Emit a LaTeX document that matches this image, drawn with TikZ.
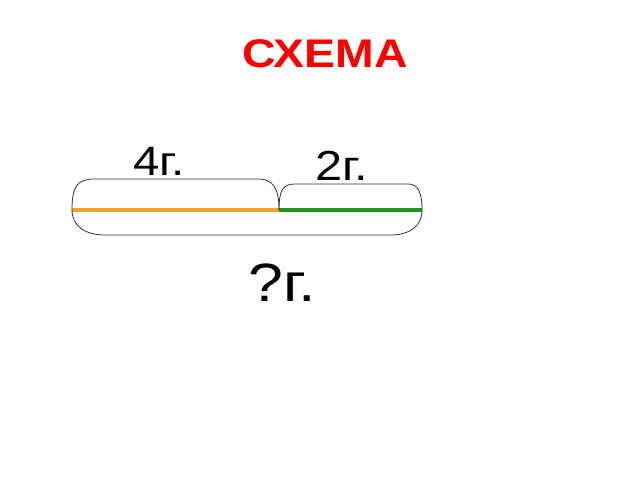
\documentclass[tikz,border=0pt]{standalone}
\usepackage{fontspec}
\setmainfont{Liberation Sans}
\newfontfamily\slidefont[FakeStretch=1.16]{Liberation Sans}
\usepackage{tikz}
\definecolor{partA}{RGB}{245,162,40}
\definecolor{partB}{RGB}{30,150,30}
\tikzset{
  every picture/.style={font={\normalsize}, >=stealth}}

\begin{document}
\begin{tikzpicture}[x=1pt, y=-1pt,
    title/.style={font=\slidefont\fontsize{40}{40}\selectfont\bfseries,
      text=red, inner sep=0pt},
    mass/.style={font=\slidefont\fontsize{41}{41}\selectfont, inner sep=0pt},
    seg/.style={line width=3.2pt},
    brace/.style={draw=black!80, line width=0.8pt}]

    \useasboundingbox (0, 0) rectangle (640, 480);

    \node[title, anchor=base] (title) at (325, 67) {СХЕМА};

    % ends of the two parts
    \coordinate (left) at (72, 210);
    \coordinate (mid) at (279, 210);
    \coordinate (right) at (422, 210);

    \draw[seg, partA] (left) -- (mid);
    \draw[seg, partB] (mid) -- (right);

    % upper braces
    \draw[brace] (left) .. controls (72, 185) and (78, 179) .. (95, 179)
      -- (258, 179) .. controls (273, 179) and (279, 188) .. (mid);
    \draw[brace] (mid) .. controls (279, 190) and (283, 184) .. (295, 184)
      -- (408, 184) .. controls (418, 184) and (422, 192) .. (right);
    % lower brace
    \draw[brace] (left) .. controls (72, 226) and (85, 235) .. (105, 235)
      -- (390, 235) .. controls (410, 235) and (422, 226) .. (right);

    \node[mass, anchor=base] (partAlabel) at (159, 175) {4г.};
    \node[mass, anchor=base, font=\slidefont\fontsize{42}{42}\selectfont]
      (partBlabel) at (342, 180) {2г.};
    \node[mass, anchor=base, font=\slidefont\fontsize{54}{54}\selectfont]
      (total) at (282, 301) {?г.};
\end{tikzpicture}
\end{document}
